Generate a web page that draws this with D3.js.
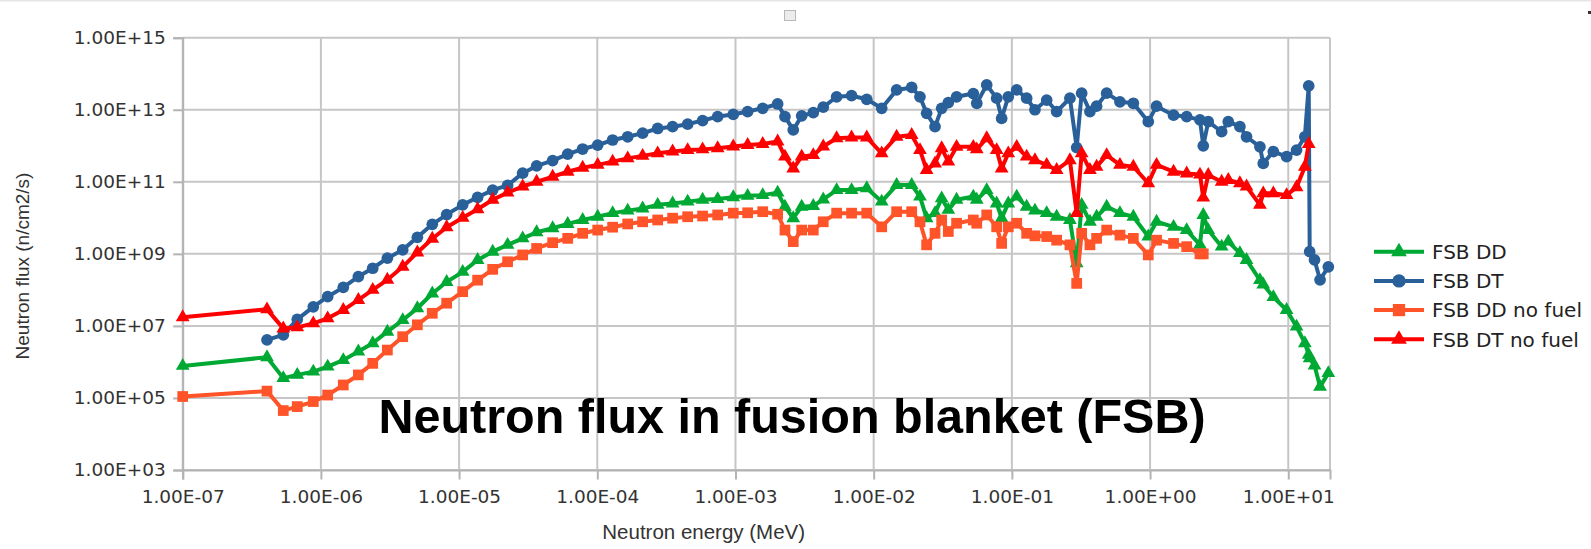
<!DOCTYPE html>
<html>
<head>
<meta charset="utf-8">
<script src="https://cdn.jsdelivr.net/npm/d3@7"></script>
<style>
  body { margin: 0; background: #fff; }
  svg { display: block; }
</style>
</head>
<body>
<div id="chart"></div>
<script>
// Neutron flux in fusion blanket (FSB) - log/log line chart

var energyExp = [-7.0, -6.39, -6.272, -6.171, -6.055, -5.951, -5.838, -5.729, -5.625, -5.519,
  -5.408, -5.302, -5.194, -5.09, -4.974, -4.866, -4.757, -4.649, -4.54, -4.439,
  -4.323, -4.214, -4.106, -3.997, -3.889, -3.78, -3.672, -3.563, -3.455, -3.346,
  -3.238, -3.129, -3.016, -2.912, -2.803, -2.695, -2.642, -2.582, -2.521, -2.437,
  -2.365, -2.268, -2.16, -2.05, -1.942, -1.834, -1.725, -1.665, -1.617, -1.556,
  -1.508, -1.46, -1.4, -1.279, -1.254, -1.182, -1.11, -1.074, -1.026, -0.965,
  -0.893, -0.833, -0.748, -0.676, -0.58, -0.531, -0.495, -0.435, -0.387, -0.314,
  -0.218, -0.121, -0.013, 0.047, 0.17, 0.265, 0.361, 0.385, 0.421, 0.518,
  0.566, 0.65, 0.698, 0.795, 0.819, 0.892, 0.988, 1.06, 1.12, 1.148,
  1.155, 1.19, 1.23, 1.29];

var fsbDD = [5.89, 6.13, 5.55, 5.64, 5.73, 5.87, 6.05, 6.29, 6.52, 6.84,
  7.16, 7.49, 7.90, 8.22, 8.50, 8.83, 9.06, 9.25, 9.43, 9.60,
  9.71, 9.83, 9.94, 10.03, 10.13, 10.20, 10.26, 10.36, 10.40, 10.45,
  10.50, 10.52, 10.57, 10.61, 10.63, 10.70, 10.31, 9.99, 10.31, 10.33,
  10.51, 10.77, 10.77, 10.82, 10.45, 10.91, 10.91, 10.59, 9.99, 10.13,
  10.54, 10.22, 10.50, 10.59, 10.50, 10.77, 10.40, 9.99, 10.40, 10.59,
  10.31, 10.20, 10.13, 10.03, 9.94, 8.74, 10.36, 9.89, 10.03, 10.31,
  10.13, 10.03, 9.48, 9.89, 9.75, 9.66, 9.25, 10.08, 9.66, 9.20,
  9.34, 9.02, 8.83, 8.27, 8.15, 7.80, 7.44, 6.98, 6.52, 6.20,
  6.10, 5.90, 5.31, 5.69];

var fsbDT = [null, 6.61, 6.75, 7.18, 7.53, 7.81, 8.07, 8.37, 8.60, 8.88,
  9.11, 9.46, 9.82, 10.09, 10.36, 10.57, 10.77, 10.90, 11.24, 11.44,
  11.59, 11.77, 11.91, 12.02, 12.16, 12.25, 12.35, 12.48, 12.53, 12.60,
  12.70, 12.81, 12.87, 12.95, 13.04, 13.16, 12.81, 12.44, 12.83, 12.92,
  13.07, 13.36, 13.39, 13.29, 13.04, 13.55, 13.62, 13.36, 12.90, 12.53,
  13.04, 13.20, 13.36, 13.45, 13.18, 13.69, 13.32, 12.76, 13.36, 13.55,
  13.32, 13.00, 13.27, 12.95, 13.32, 11.95, 13.46, 12.95, 13.10, 13.46,
  13.22, 13.18, 12.67, 13.10, 12.85, 12.81, 12.72, 12.00, 12.67, 12.39,
  12.67, 12.53, 12.25, 11.97, 11.51, 11.84, 11.70, 11.88, 12.25, 13.66,
  9.06, 8.83, 8.28, 8.64];

var fsbDDNoFuel = [5.04, 5.19, 4.65, 4.76, 4.90, 5.08, 5.36, 5.64, 5.96, 6.33,
  6.70, 7.03, 7.35, 7.63, 7.95, 8.27, 8.57, 8.78, 8.97, 9.15,
  9.31, 9.43, 9.57, 9.66, 9.74, 9.83, 9.89, 9.94, 9.99, 10.03,
  10.05, 10.08, 10.13, 10.14, 10.17, 10.10, 9.66, 9.34, 9.66, 9.66,
  9.89, 10.13, 10.13, 10.13, 9.75, 10.17, 10.17, 9.89, 9.25, 9.57,
  9.94, 9.62, 9.85, 9.94, 9.85, 10.08, 9.75, 9.29, 9.75, 9.85,
  9.57, 9.50, 9.48, 9.38, 9.25, 8.18, 9.57, 9.25, 9.43, 9.66,
  9.52, 9.43, 8.97, 9.38, 9.29, 9.20, 9.00, 9.00, null, null,
  null, null, null, null, null, null, null, null, null, null,
  null, null, null, null];

var fsbDTNoFuel = [7.24, 7.46, 6.93, 6.96, 7.07, 7.21, 7.44, 7.72, 8.00, 8.28,
  8.64, 9.04, 9.42, 9.74, 10.00, 10.24, 10.50, 10.70, 10.87, 11.00,
  11.14, 11.28, 11.39, 11.47, 11.56, 11.65, 11.72, 11.79, 11.84, 11.88,
  11.90, 11.93, 11.98, 12.02, 12.05, 12.12, 11.70, 11.37, 11.70, 11.74,
  11.98, 12.21, 12.23, 12.23, 11.79, 12.25, 12.30, 11.88, 11.33, 11.51,
  11.93, 11.56, 11.97, 11.97, 11.90, 12.21, 11.88, 11.37, 11.79, 11.97,
  11.70, 11.60, 11.47, 11.33, 11.60, 10.13, 11.79, 11.33, 11.42, 11.74,
  11.47, 11.42, 10.96, 11.47, 11.28, 11.23, 11.20, 10.56, 11.19, 11.00,
  11.05, 10.96, 10.87, 10.36, 10.68, 10.68, 10.63, 10.85, 11.42, 12.05,
  null, null, null, null];

var seriesNames = ["FSB DD", "FSB DT", "FSB DD no fuel", "FSB DT no fuel"];
var xTickExp = [-7, -6, -5, -4, -3, -2, -1, 0, 1];
var yTickExp = [3, 5, 7, 9, 11, 13, 15];

var svgWidth = 1591;
var svgHeight = 549;

var plot = { left: 182.7, right: 1330, top: 37.7, bottom: 470 };

var series = [
  { name: seriesNames[0], values: fsbDD, color: "#00a933", symbol: d3.symbolTriangle, size: 82 },
  { name: seriesNames[1], values: fsbDT, color: "#2a6099", symbol: d3.symbolCircle, size: 108 },
  { name: seriesNames[2], values: fsbDDNoFuel, color: "#ff5429", symbol: d3.symbolSquare, size: 115 },
  { name: seriesNames[3], values: fsbDTNoFuel, color: "#ff0000", symbol: d3.symbolTriangle, size: 82 }
];

var svg = d3.select("#chart")
  .append("svg")
  .attr("width", svgWidth)
  .attr("height", svgHeight);

// faint frame line along the top of the page and the small icons
svg.append("rect").attr("x", 0).attr("y", 0).attr("width", svgWidth).attr("height", 1.5).attr("fill", "#e6e6e6");
svg.append("rect").attr("x", 784.5).attr("y", 10.5).attr("width", 11).attr("height", 10)
  .attr("fill", "#ececec").attr("stroke", "#b8b8b8").attr("stroke-width", 1);
svg.append("rect").attr("x", 1588).attr("y", 11).attr("width", 3).attr("height", 3).attr("fill", "#333");

var x = d3.scaleLog()
  .domain([1e-7, Math.pow(10, 1.302)])
  .range([plot.left, plot.right]);

var y = d3.scaleLog()
  .domain([1e3, 1e15])
  .range([plot.bottom, plot.top]);

function sci(d) {
  var e = Math.round(Math.log10(d));
  var a = Math.abs(e);
  return "1.00E" + (e < 0 ? "-" : "+") + (a < 10 ? "0" + a : a);
}

var xTicks = xTickExp.map(e => Math.pow(10, e));
var yTicks = yTickExp.map(e => Math.pow(10, e));

// Gridlines
var grid = svg.append("g");
grid.selectAll(".vgrid")
  .data(xTicks)
  .enter()
  .append("line")
  .attr("x1", d => x(d)).attr("x2", d => x(d))
  .attr("y1", plot.top).attr("y2", plot.bottom)
  .attr("stroke", "#c6c6c6").attr("stroke-width", 2);
grid.selectAll(".hgrid")
  .data(yTicks)
  .enter()
  .append("line")
  .attr("x1", plot.left).attr("x2", plot.right)
  .attr("y1", d => y(d)).attr("y2", d => y(d))
  .attr("stroke", "#c6c6c6").attr("stroke-width", 2);
grid.append("line")
  .attr("x1", plot.right).attr("x2", plot.right)
  .attr("y1", plot.top).attr("y2", plot.bottom)
  .attr("stroke", "#c6c6c6").attr("stroke-width", 2);

// Axes
var bottomAxis = d3.axisBottom(x).tickValues(xTicks).tickFormat(sci).tickSize(9.5).tickPadding(10.5);
var leftAxis = d3.axisLeft(y).tickValues(yTicks).tickFormat(sci).tickSize(9.5).tickPadding(7.5);

var xAxisG = svg.append("g")
  .attr("transform", `translate(0, ${plot.bottom})`)
  .call(bottomAxis);
var yAxisG = svg.append("g")
  .attr("transform", `translate(${plot.left}, 0)`)
  .call(leftAxis);

[xAxisG, yAxisG].forEach(function(g) {
  g.select(".domain").attr("stroke", "#b3b3b3").attr("stroke-width", 2);
  g.selectAll(".tick line").attr("stroke", "#b3b3b3").attr("stroke-width", 2);
  g.selectAll(".tick text")
    .attr("fill", "#333")
    .style("font-family", "'DejaVu Sans', sans-serif")
    .style("font-size", "18.5px");
});

// Series lines and markers
var line = d3.line()
  .defined(d => d.v != null)
  .x(d => x(Math.pow(10, d.e)))
  .y(d => y(Math.pow(10, d.v)));

series.forEach(function(s) {
  var pts = energyExp.map((e, i) => ({ e: e, v: s.values[i] }));
  var g = svg.append("g");
  g.append("path")
    .datum(pts)
    .attr("d", line)
    .attr("fill", "none")
    .attr("stroke", s.color)
    .attr("stroke-width", 4)
    .attr("stroke-linejoin", "round");
  g.selectAll("path.mark")
    .data(pts.filter(d => d.v != null))
    .enter()
    .append("path")
    .attr("class", "mark")
    .attr("d", d3.symbol().type(s.symbol).size(s.size))
    .attr("transform", d => `translate(${x(Math.pow(10, d.e))}, ${y(Math.pow(10, d.v))})`)
    .attr("fill", s.color);
});

// Title inside plot
svg.append("text")
  .attr("x", 792)
  .attr("y", 433)
  .attr("text-anchor", "middle")
  .style("font-family", "'Liberation Sans', Arial, sans-serif")
  .style("font-weight", "bold")
  .style("font-size", "48.5px")
  .attr("fill", "#000")
  .text("Neutron flux in fusion blanket (FSB)");

// Axis titles
svg.append("text")
  .attr("transform", "rotate(-90)")
  .attr("x", -266)
  .attr("y", 28.5)
  .attr("text-anchor", "middle")
  .style("font-family", "'Liberation Sans', Arial, sans-serif")
  .style("font-size", "19px")
  .attr("fill", "#333")
  .text("Neutron flux (n/cm2/s)");

svg.append("text")
  .attr("x", 703.7)
  .attr("y", 539)
  .attr("text-anchor", "middle")
  .style("font-family", "'Liberation Sans', Arial, sans-serif")
  .style("font-size", "20.5px")
  .attr("fill", "#333")
  .text("Neutron energy (MeV)");

// Legend
var legend = svg.append("g").attr("transform", "translate(1374, 251.7)");
series.forEach(function(s, i) {
  var row = legend.append("g").attr("transform", `translate(0, ${i * 29.2})`);
  row.append("line")
    .attr("x1", 0).attr("x2", 50)
    .attr("y1", 0).attr("y2", 0)
    .attr("stroke", s.color).attr("stroke-width", 4);
  row.append("path")
    .attr("d", d3.symbol().type(s.symbol).size(s.size * 1.3))
    .attr("transform", "translate(25, 0)")
    .attr("fill", s.color);
  row.append("text")
    .attr("x", 58)
    .attr("y", 0)
    .attr("dy", "0.36em")
    .style("font-family", "'DejaVu Sans', sans-serif")
    .style("font-size", "20px")
    .attr("fill", "#222")
    .text(s.name);
});
</script>
</body>
</html>
